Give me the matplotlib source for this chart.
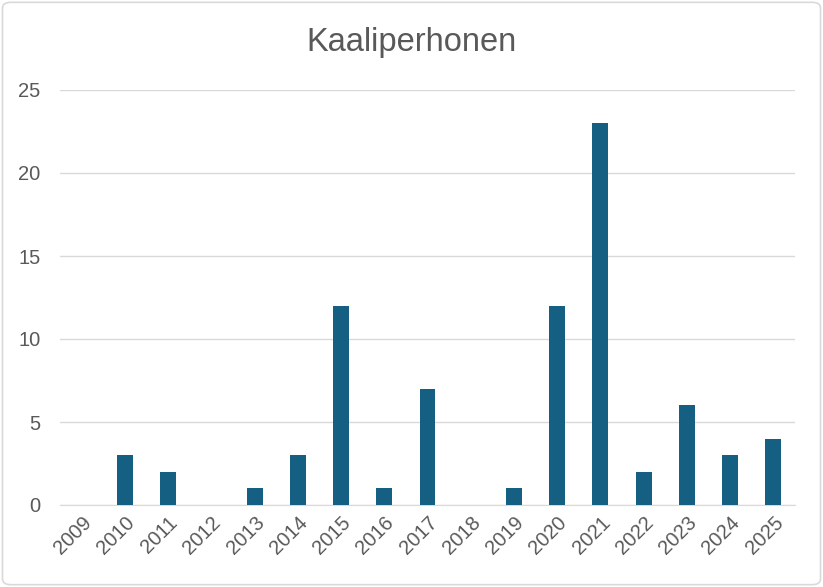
import numpy as np
import matplotlib.pyplot as plt
from matplotlib.patches import FancyBboxPatch

years = ["2009", "2010", "2011", "2012", "2013", "2014", "2015", "2016", "2017",
         "2018", "2019", "2020", "2021", "2022", "2023", "2024", "2025"]
counts = [0, 3, 2, 0, 1, 3, 12, 1, 7, 0, 1, 12, 23, 2, 6, 3, 4]

plt.rcParams['font.family'] = ['Liberation Sans', 'DejaVu Sans']

fig = plt.figure(figsize=(8.23, 5.87), dpi=100)
ax = fig.add_axes([60 / 823, 1 - 505 / 587, 735 / 823, 415 / 587])

x = np.arange(len(years))
ax.bar(x, counts, width=0.37, color="#156082", zorder=3)

ax.set_xlim(-0.5, len(years) - 0.5)
ax.set_ylim(0, 25)
ax.set_yticks([0, 5, 10, 15, 20, 25])
ax.set_xticks(x)
ax.set_xticklabels(years, rotation=45, ha="right", rotation_mode="anchor")
ax.tick_params(axis="both", length=0, labelsize=14.5, colors="#595959")
ax.tick_params(axis="y", pad=14)
ax.tick_params(axis="x", pad=6)
ax.grid(axis="y", color="#d9d9d9", linewidth=1, zorder=0)
for s in ["top", "right", "left"]:
    ax.spines[s].set_visible(False)
ax.spines["bottom"].set_color("#d9d9d9")

fig.text(0.5, 1 - 42 / 587, "Kaaliperhonen", ha="center", va="center",
         fontsize=23.5, color="#595959")

border = FancyBboxPatch((0.003, 0.004), 0.994, 0.992, boxstyle="round,pad=0,rounding_size=0.01",
                        transform=fig.transFigure, fill=False, edgecolor="#d9d9d9", linewidth=1.2)
fig.patches.append(border)

fig.savefig("out.png", dpi=100)
